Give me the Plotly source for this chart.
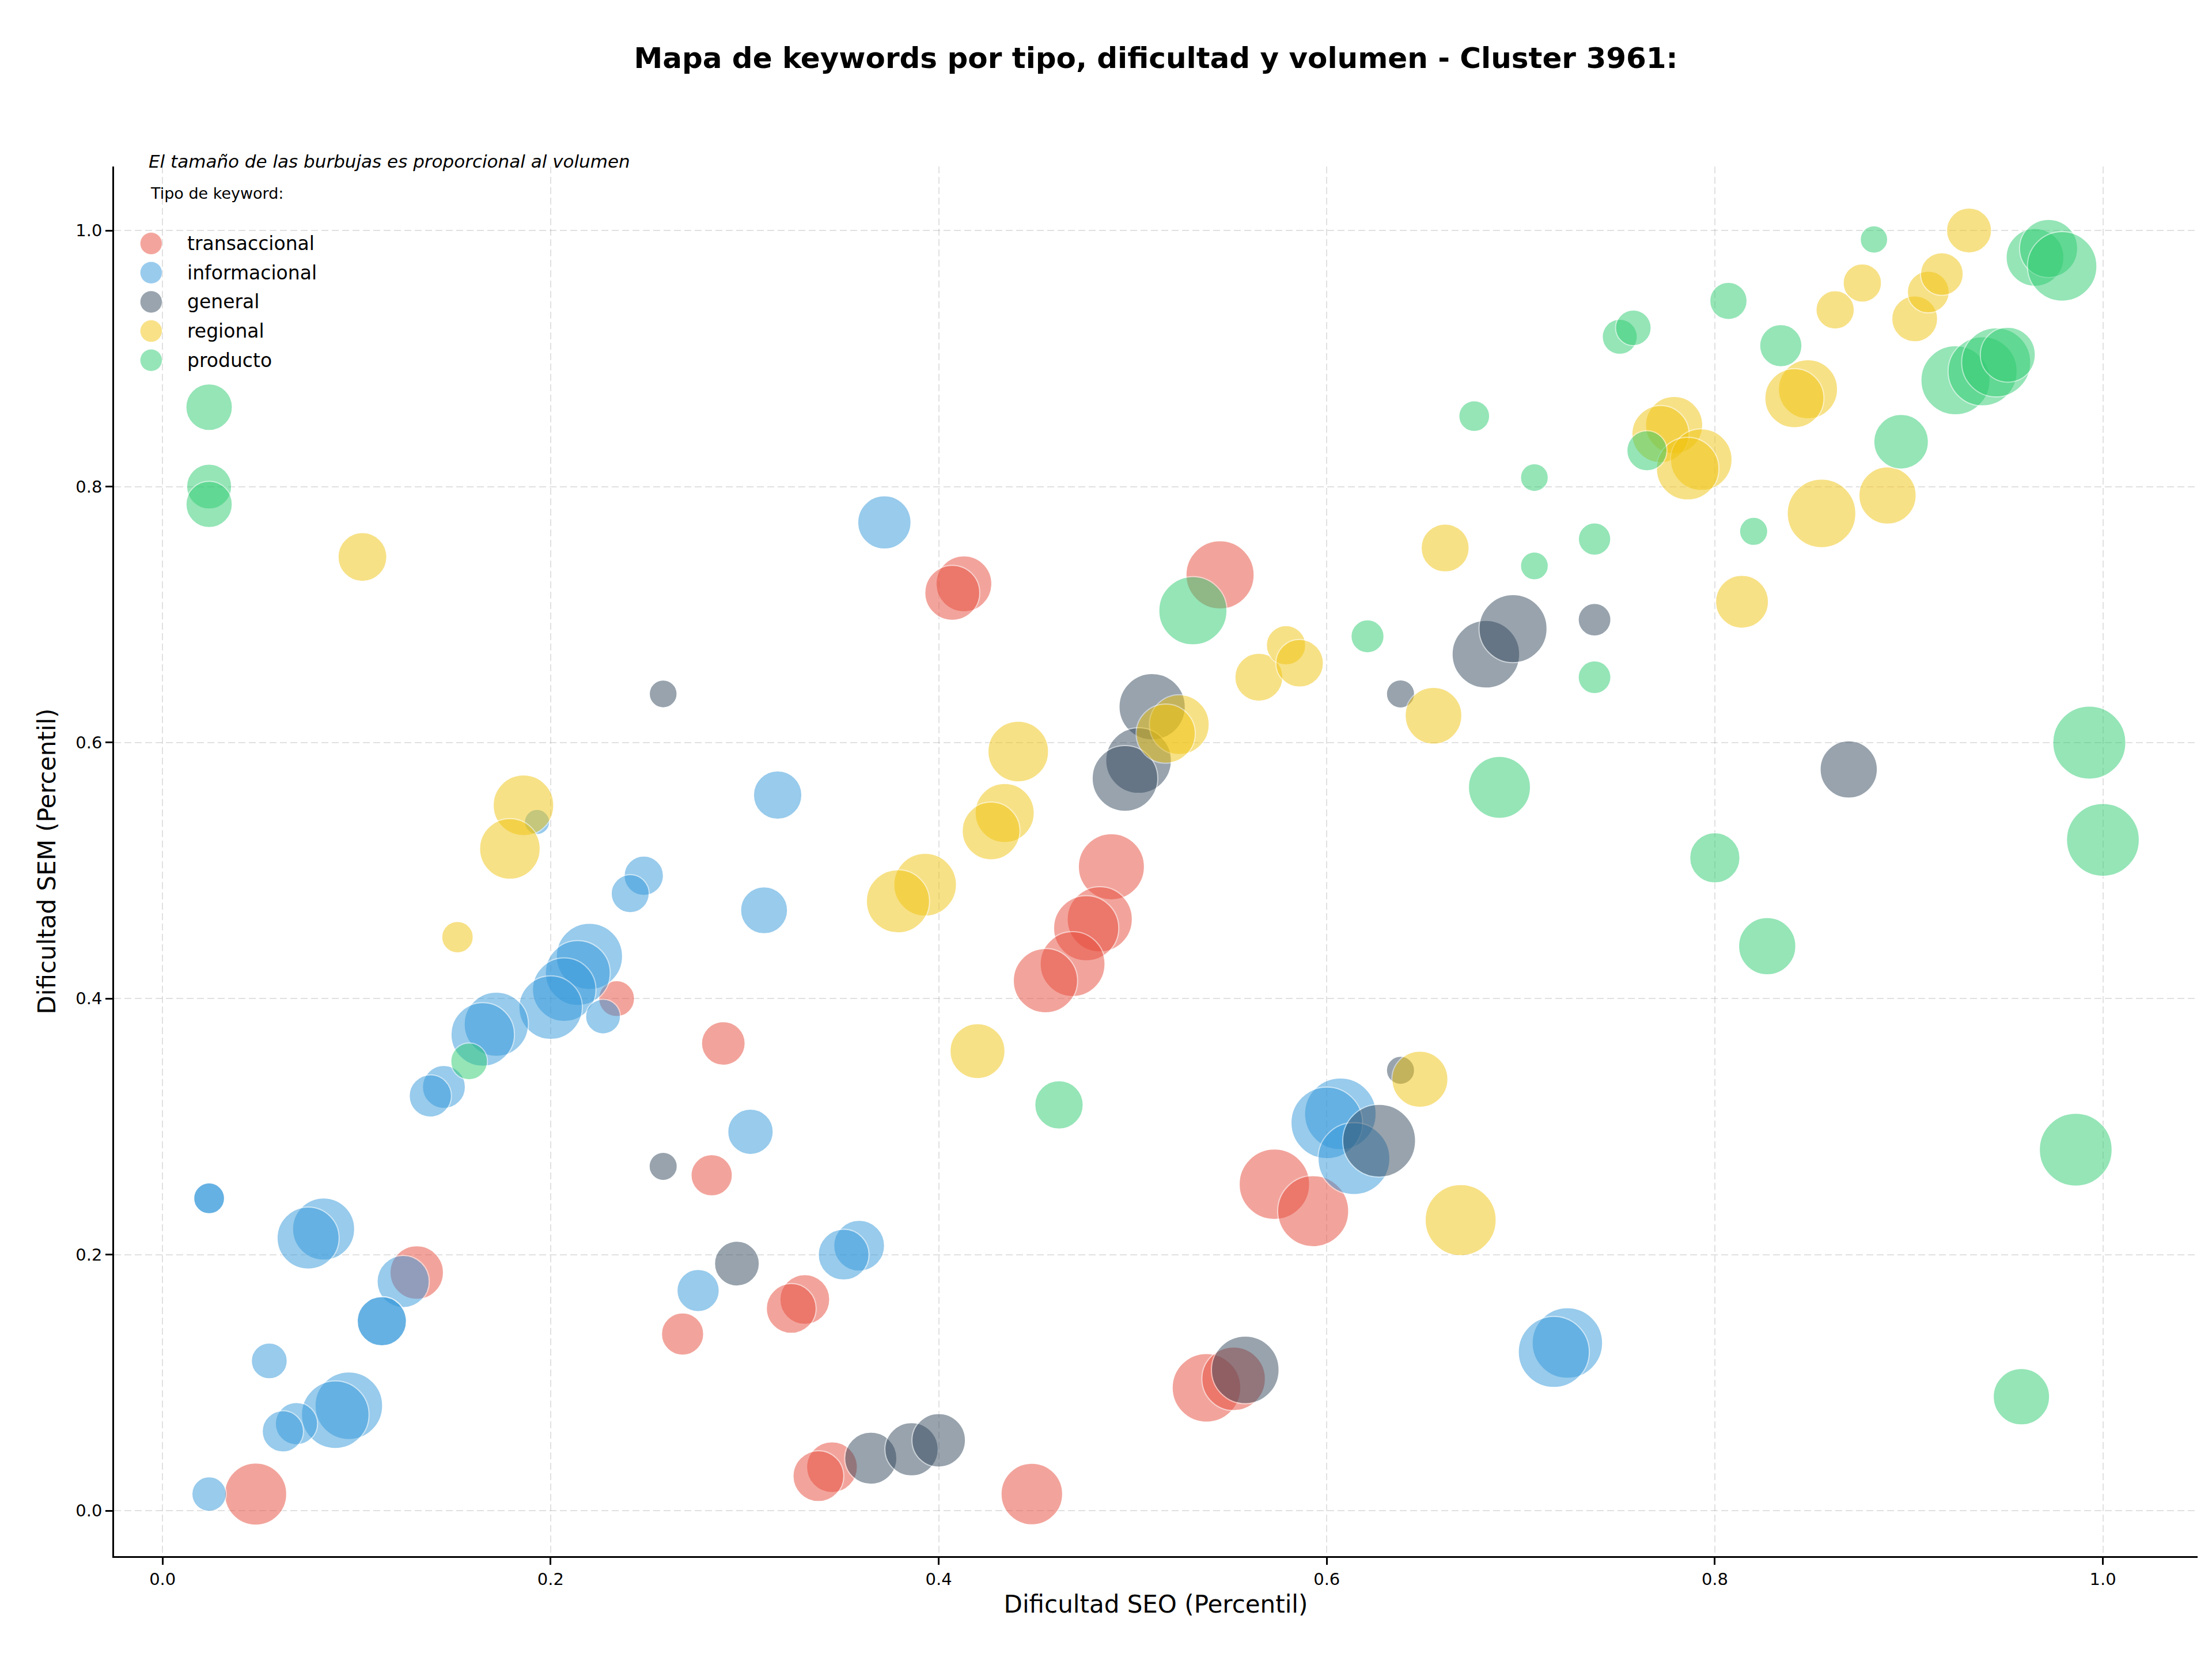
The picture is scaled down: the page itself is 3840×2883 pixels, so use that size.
import plotly.graph_objects as go

# ---------------- data ----------------
tipos = ["transaccional", "informacional", "general", "regional", "producto"]

trans_seo = [0.048, 0.131, 0.234, 0.289, 0.283, 0.268, 0.331, 0.324, 0.345, 0.338, 0.448, 0.413, 0.407, 0.545,
             0.489, 0.483, 0.476, 0.469, 0.455, 0.573, 0.593, 0.538, 0.552]
trans_sem = [0.013, 0.186, 0.400, 0.365, 0.262, 0.138, 0.165, 0.158, 0.034, 0.027, 0.013, 0.724, 0.717, 0.731,
             0.503, 0.462, 0.455, 0.427, 0.414, 0.255, 0.234, 0.096, 0.103]
trans_vol = [1940, 1440, 650, 960, 860, 900, 1250, 1250, 1300, 1300, 1910, 1570, 1520, 2340,
             2200, 2140, 2140, 2120, 2080, 2500, 2540, 2370, 2030]

info_seo = [0.024, 0.024, 0.083, 0.075, 0.124, 0.113, 0.113, 0.055, 0.096, 0.089, 0.069, 0.062, 0.024,
            0.220, 0.214, 0.207, 0.200, 0.227, 0.172, 0.165, 0.145, 0.138, 0.248, 0.241, 0.193, 0.317,
            0.310, 0.372, 0.303, 0.276, 0.359, 0.351, 0.607, 0.600, 0.614, 0.724, 0.717]
info_sem = [0.244, 0.244, 0.220, 0.213, 0.179, 0.148, 0.148, 0.117, 0.082, 0.075, 0.068, 0.062, 0.013,
            0.433, 0.420, 0.407, 0.393, 0.386, 0.380, 0.372, 0.331, 0.324, 0.496, 0.482, 0.538, 0.559,
            0.469, 0.772, 0.296, 0.172, 0.207, 0.200, 0.310, 0.303, 0.275, 0.131, 0.124]
info_vol = [480, 480, 1940, 1940, 1370, 1220, 1220, 650, 2300, 2300, 900, 860, 600,
            2210, 2120, 2030, 2030, 610, 2080, 2030, 930, 900, 780, 730, 320, 1180,
            1110, 1430, 1040, 900, 1300, 1300, 2580, 2580, 2600, 2500, 2540]

gen_seo = [0.258, 0.258, 0.296, 0.365, 0.386, 0.400, 0.558, 0.627, 0.638, 0.510, 0.503, 0.496, 0.638,
           0.682, 0.696, 0.738, 0.869]
gen_sem = [0.638, 0.269, 0.193, 0.041, 0.048, 0.055, 0.110, 0.289, 0.344, 0.628, 0.586, 0.572, 0.638,
           0.669, 0.689, 0.696, 0.579]
gen_vol = [390, 400, 1010, 1370, 1430, 1440, 2300, 2670, 400, 2210, 2170, 2170, 400,
           2300, 2330, 540, 1650]

reg_seo = [0.103, 0.186, 0.179, 0.152, 0.393, 0.379, 0.420, 0.441, 0.434, 0.427, 0.524, 0.517, 0.565,
           0.579, 0.586, 0.655, 0.661, 0.648, 0.669, 0.814, 0.779, 0.772, 0.793, 0.786, 0.848, 0.841,
           0.855, 0.889, 0.862, 0.876, 0.903, 0.910, 0.917, 0.931]
reg_sem = [0.745, 0.551, 0.517, 0.448, 0.489, 0.476, 0.359, 0.593, 0.545, 0.531, 0.614, 0.607, 0.651,
           0.676, 0.662, 0.621, 0.752, 0.337, 0.227, 0.710, 0.848, 0.841, 0.821, 0.814, 0.876, 0.869,
           0.779, 0.793, 0.938, 0.959, 0.931, 0.952, 0.966, 1.000]
reg_vol = [1200, 1850, 1850, 500, 1980, 2010, 1520, 1850, 1760, 1680, 1800, 1760, 1160,
           780, 1140, 1620, 1160, 1580, 2540, 1410, 1650, 1650, 1910, 1970, 1760, 1760,
           2370, 1650, 740, 740, 1060, 880, 920, 1020]

prod_seo = [0.024, 0.024, 0.024, 0.158, 0.462, 0.531, 0.621, 0.676, 0.707, 0.707, 0.738, 0.738, 0.689,
            0.800, 0.827, 0.993, 1.000, 0.986, 0.958, 0.751, 0.758, 0.765, 0.807, 0.834, 0.820, 0.896,
            0.882, 0.924, 0.938, 0.945, 0.951, 0.965, 0.972, 0.979]
prod_sem = [0.862, 0.800, 0.786, 0.351, 0.317, 0.703, 0.683, 0.855, 0.807, 0.738, 0.759, 0.651, 0.565,
            0.510, 0.441, 0.600, 0.524, 0.282, 0.089, 0.917, 0.924, 0.828, 0.945, 0.910, 0.765, 0.835,
            0.993, 0.883, 0.890, 0.897, 0.903, 0.979, 0.986, 0.972]
prod_vol = [1090, 1020, 1080, 680, 1180, 2340, 550, 480, 390, 390, 530, 540, 1940,
            1270, 1650, 2690, 2670, 2670, 1600, 620, 640, 810, 700, 900, 400, 1500,
            380, 2400, 2400, 2400, 1520, 1680, 1700, 2430]

x_ticks = [0.0, 0.2, 0.4, 0.6, 0.8, 1.0]
y_ticks = [0.0, 0.2, 0.4, 0.6, 0.8, 1.0]

# ---------------- style ----------------
colores = {
    "transaccional": "#E74C3C",
    "informacional": "#3498DB",
    "general": "#34495E",
    "regional": "#F1C40F",
    "producto": "#2ECC71",
}
rgba = {
    "transaccional": "rgba(231,76,60,0.5)",
    "informacional": "rgba(52,152,219,0.5)",
    "general": "rgba(52,73,94,0.5)",
    "regional": "rgba(241,196,15,0.5)",
    "producto": "rgba(46,204,113,0.5)",
}
FONT = "DejaVu Sans"
SIZEREF = 2.0 / 6.0

series = [
    ("transaccional", trans_seo, trans_sem, trans_vol),
    ("informacional", info_seo, info_sem, info_vol),
    ("general", gen_seo, gen_sem, gen_vol),
    ("regional", reg_seo, reg_sem, reg_vol),
    ("producto", prod_seo, prod_sem, prod_vol),
]

fig = go.Figure()
for name, xs, ys, vs in series:
    fig.add_trace(go.Scatter(
        x=xs, y=ys, mode="markers", name=name, showlegend=False,
        marker=dict(size=vs, sizemode="area", sizeref=SIZEREF, color=colores[name],
                    opacity=0.5, line=dict(color="white", width=2)),
    ))

W, H = 3840, 2883
L, R, T, B = 198, 25, 289, 182

grid = dict(showgrid=True, gridcolor="rgba(170,170,170,0.35)", gridwidth=2, griddash="12px,6px",
            zeroline=False, showline=True, linecolor="black", linewidth=2.5,
            ticks="outside", ticklen=12, tickwidth=2.5, tickcolor="black",
            tickfont=dict(family=FONT, size=29, color="black"), tickformat=".1f", automargin=False)

fig.update_layout(
    width=W, height=H,
    margin=dict(l=L, r=R, t=T, b=B, pad=0),
    paper_bgcolor="white", plot_bgcolor="white",
    font=dict(family=FONT, color="black"),
    title=dict(text="<b>Mapa de keywords por tipo, dificultad y volumen - Cluster 3961:</b>",
               font=dict(family=FONT, size=50, color="black"),
               x=(L + (W - R - L) / 2) / W, xanchor="center", xref="container",
               y=1 - 100 / H, yanchor="middle", yref="container"),
    xaxis=dict(range=[-0.0250, 1.0488], tickvals=x_ticks,
               title=dict(text="Dificultad SEO (Percentil)", font=dict(family=FONT, size=42), standoff=14),
               **grid),
    yaxis=dict(range=[-0.0355, 1.0500], tickvals=y_ticks,
               title=dict(text="Dificultad SEM (Percentil)", font=dict(family=FONT, size=42), standoff=22),
               **grid),
)

# manual legend (matching the large legend markers)
ann = [
    dict(text="<i>El tamaño de las burbujas es proporcional al volumen</i>", x=0.0160, y=1.0037,
         xref="paper", yref="paper", xanchor="left", yanchor="middle", showarrow=False,
         font=dict(family=FONT, size=31, color="black")),
    dict(text="Tipo de keyword:", x=0.0168, y=0.9809, xref="paper", yref="paper",
         xanchor="left", yanchor="middle", showarrow=False, font=dict(family=FONT, size=27, color="black")),
]
shapes = []
leg_y = [0.9446, 0.9236, 0.9026, 0.8816, 0.8606]
for name, yy in zip(tipos, leg_y):
    shapes.append(dict(type="circle", xref="paper", yref="paper", xsizemode="pixel", ysizemode="pixel",
                       xanchor=0.0178, yanchor=yy, x0=-19, x1=19, y0=-19, y1=19,
                       fillcolor=rgba[name], line=dict(color="rgba(255,255,255,0.5)", width=1)))
    ann.append(dict(text=name, x=0.0345, y=yy, xref="paper", yref="paper", xanchor="left", yanchor="middle",
                    showarrow=False, font=dict(family=FONT, size=33, color="black")))
fig.update_layout(annotations=ann, shapes=shapes)

fig.write_html("out.html")
